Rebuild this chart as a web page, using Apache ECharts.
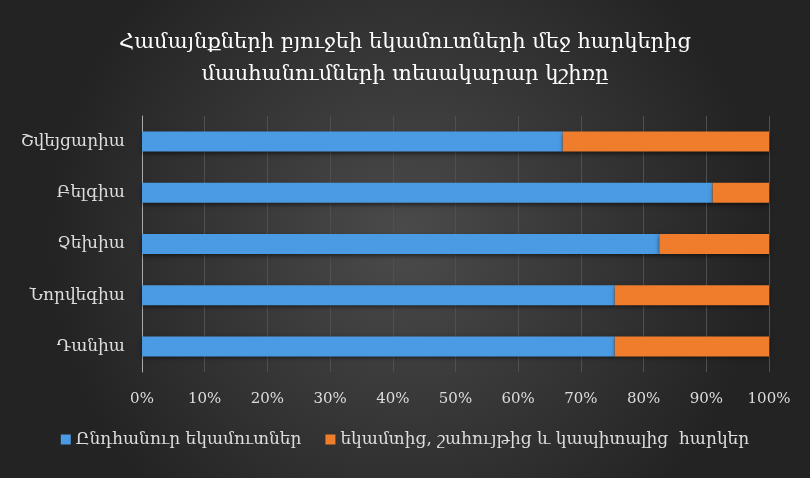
<!DOCTYPE html>
<html><head><meta charset="utf-8">
<script src="https://cdn.jsdelivr.net/npm/echarts@6/dist/echarts.min.js"></script>
<style>html,body{margin:0;padding:0;background:#262626}#c{width:810px;height:478px}</style>
</head><body><div id="c"></div>
<script>
const categories = ['Դանիա','Նորվեգիա','Չեխիա','Բելգիա','Շվեյցարիա'];
const seriesNames = ['Ընդհանուր եկամուտներ','եկամտից, շահույթից և կապիտալից  հարկեր'];
const totalIncome = [75.4, 75.4, 82.5, 91.0, 67.1];
const taxShare = [24.6, 24.6, 17.5, 9.0, 32.9];
const titleLines = ['Համայնքների բյուջեի եկամուտների մեջ հարկերից','մասհանումների տեսակարար կշիռը'];

const font = 'DejaVu Serif';
const chart = echarts.init(document.getElementById('c'));
chart.setOption({
  backgroundColor: {type:'radial', x:0.5, y:0.5, r:0.75, colorStops:[{offset:0,color:'#4b4b4b'},{offset:1,color:'#232323'}]},
  animation:false,
  title:{text:titleLines.join('\n'), left:'center', top:22,
    textStyle:{color:'#ffffff', fontFamily:font, fontSize:21, fontWeight:'normal', lineHeight:32}},
  legend:{bottom:25, left:'center', itemWidth:10, itemHeight:10, itemGap:24, icon:'rect',
    textStyle:{color:'#dddddd', fontFamily:font, fontSize:17}, data:seriesNames},
  grid:{left:142, right:41, top:116, bottom:106, containLabel:false},
  xAxis:{type:'value', min:0, max:100, interval:10,
    axisLabel:{formatter:'{value}%', color:'#dddddd', fontFamily:font, fontSize:15, margin:20},
    axisLine:{show:false}, axisTick:{show:false},
    splitLine:{lineStyle:{color:'#505050', width:1}}},
  yAxis:{type:'category', data:categories,
    axisLabel:{color:'#dddddd', fontFamily:font, fontSize:17, margin:17},
    axisLine:{lineStyle:{color:'#aaaaaa', width:1}}, axisTick:{show:false}},
  series:[
    {name:seriesNames[0], type:'bar', stack:'a', data:totalIncome, barWidth:20,
      itemStyle:{color:'#4a9be3', shadowColor:'rgba(0,0,0,0.5)', shadowBlur:4, shadowOffsetY:2}},
    {name:seriesNames[1], type:'bar', stack:'a', data:taxShare, barWidth:20,
      itemStyle:{color:'#f07d2c', shadowColor:'rgba(0,0,0,0.5)', shadowBlur:4, shadowOffsetY:2}}
  ]
});
</script></body></html>
